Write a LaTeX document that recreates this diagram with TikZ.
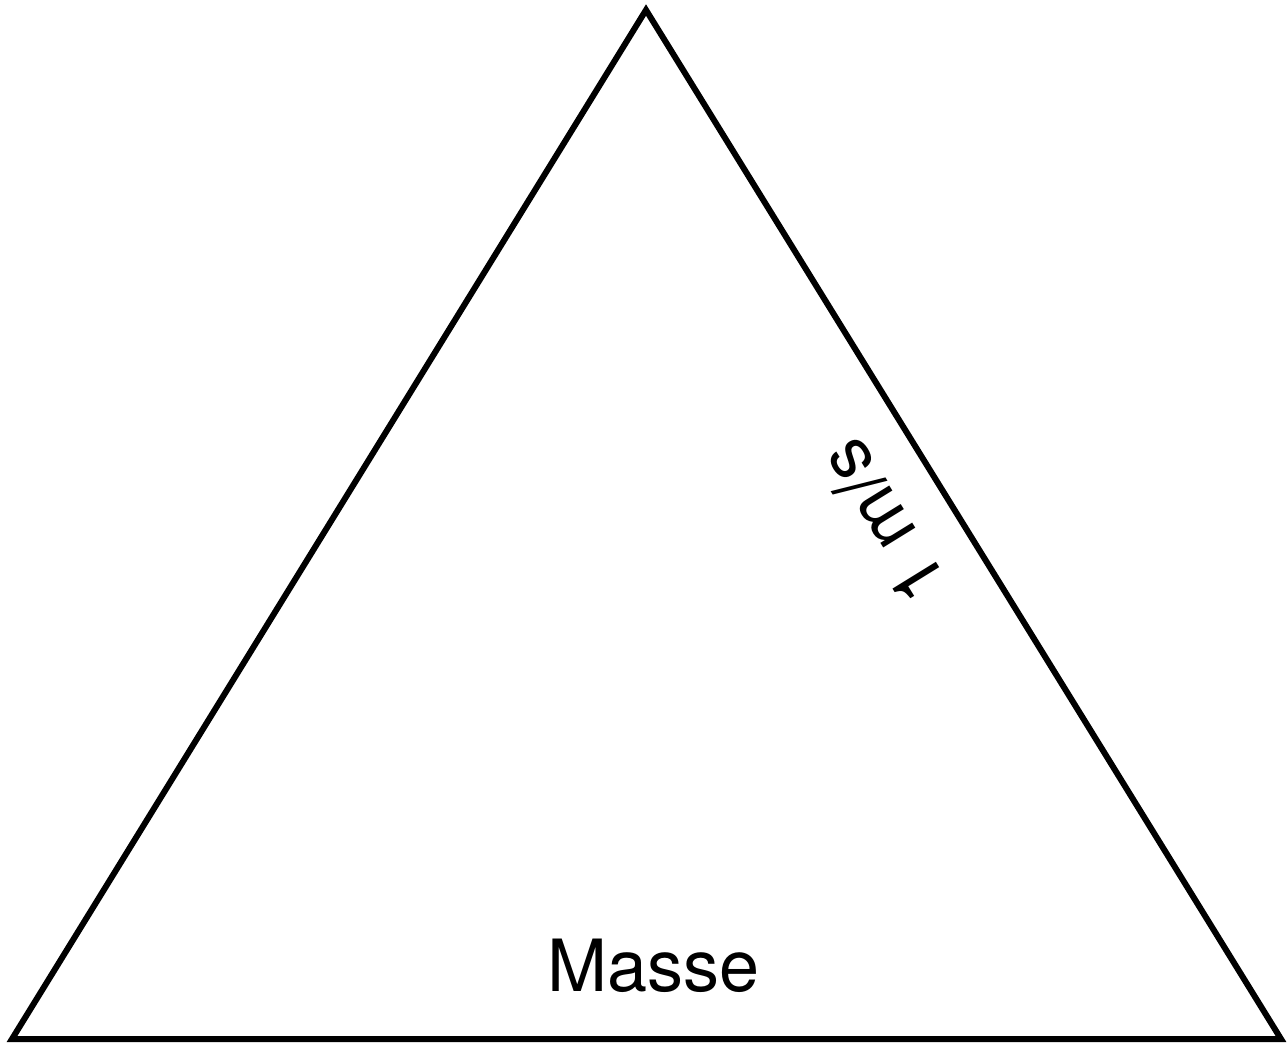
\documentclass[tikz,border=0pt]{standalone}
\usepackage{fontspec}
\setmainfont{TeX Gyre Heros}
\usetikzlibrary{positioning, calc}

\begin{document}
\begin{tikzpicture}[x=0.75pt, y=-0.75pt,
    edge/.style={draw, line width=4.5pt, line join=miter},
    lbl/.style={font=\fontsize{54}{60}\selectfont, inner sep=0pt}]
    \useasboundingbox (0,0) rectangle (1287,1044);
    % corners of the triangle
    \coordinate (top) at (646,10);
    \coordinate (left) at (12,1039);
    \coordinate (right) at (1281,1039);
    \draw[edge] (top) -- (right) -- (left) -- cycle;

    \node (masse) [lbl] at (654,966) {Masse};
    \node (speed) [lbl, rotate=121.7] at (882,522) {1 m/s};
\end{tikzpicture}
\end{document}
